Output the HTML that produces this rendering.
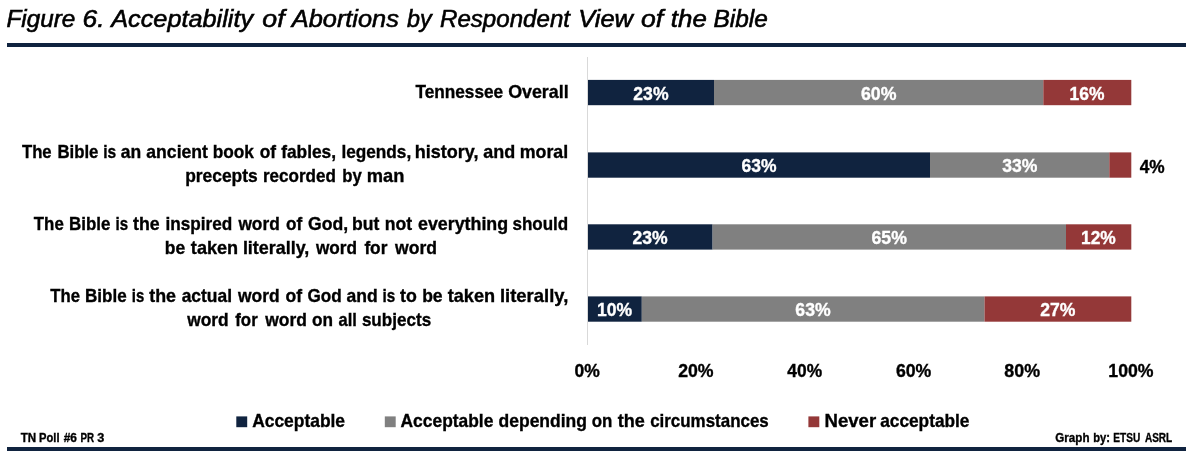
<!DOCTYPE html>
<html lang="en"><head><meta charset="utf-8"><title>Figure 6. Acceptability of Abortions by Respondent View of the Bible</title>
<style>
html,body{margin:0;padding:0;background:#fff;}
body{width:1193px;height:459px;overflow:hidden;}
svg{display:block;font-family:"Liberation Sans", Arial, sans-serif;will-change:transform;}
</style></head><body>
<svg width="1193" height="459" viewBox="0 0 1193 459">
<rect x="0" y="0" width="1193" height="459" fill="#fff"/>
<rect x="7" y="43" width="1179" height="4" fill="#10233f"/>
<rect x="7" y="447" width="1179" height="4" fill="#10233f"/>
<rect x="587" y="57" width="1" height="288" fill="#d9d9d9"/>
<rect x="588" y="79.9" width="126.00" height="25.3" fill="#10233f"/>
<rect x="714" y="79.9" width="329.30" height="25.3" fill="#808080"/>
<rect x="1043.3" y="79.9" width="88.00" height="25.3" fill="#943838"/>
<rect x="588" y="152.4" width="342.00" height="25.3" fill="#10233f"/>
<rect x="930" y="152.4" width="179.30" height="25.3" fill="#808080"/>
<rect x="1109.3" y="152.4" width="22.00" height="25.3" fill="#943838"/>
<rect x="588" y="224.3" width="124.60" height="25.3" fill="#10233f"/>
<rect x="712.6" y="224.3" width="353.40" height="25.3" fill="#808080"/>
<rect x="1066" y="224.3" width="65.30" height="25.3" fill="#943838"/>
<rect x="588" y="296.4" width="53.80" height="25.3" fill="#10233f"/>
<rect x="641.8" y="296.4" width="342.70" height="25.3" fill="#808080"/>
<rect x="984.5" y="296.4" width="146.80" height="25.3" fill="#943838"/>
<rect x="236.3" y="416.4" width="10.9" height="10.8" fill="#10233f"/>
<rect x="384.8" y="416.4" width="10.9" height="10.8" fill="#808080"/>
<rect x="808.4" y="416.4" width="10.9" height="10.8" fill="#943838"/>
<text y="27.45" font-size="24.8" font-weight="normal" font-style="italic" fill="#000" stroke="#000" stroke-width="0.6"><tspan x="6.56" textLength="68.77" lengthAdjust="spacingAndGlyphs">Figure</tspan> <tspan x="82.54" textLength="21.97" lengthAdjust="spacingAndGlyphs">6.</tspan> <tspan x="111.25" textLength="141.85" lengthAdjust="spacingAndGlyphs">Acceptability</tspan> <tspan x="262.39" textLength="22.34" lengthAdjust="spacingAndGlyphs">of</tspan> <tspan x="291.80" textLength="107.08" lengthAdjust="spacingAndGlyphs">Abortions</tspan> <tspan x="407.02" textLength="24.68" lengthAdjust="spacingAndGlyphs">by</tspan> <tspan x="439.98" textLength="130.03" lengthAdjust="spacingAndGlyphs">Respondent</tspan> <tspan x="578.24" textLength="54.75" lengthAdjust="spacingAndGlyphs">View</tspan> <tspan x="640.99" textLength="22.18" lengthAdjust="spacingAndGlyphs">of</tspan> <tspan x="670.85" textLength="35.95" lengthAdjust="spacingAndGlyphs">the</tspan> <tspan x="713.53" textLength="54.30" lengthAdjust="spacingAndGlyphs">Bible</tspan></text>
<text y="97.90" font-size="18.2" font-weight="bold" font-style="normal" fill="#000" stroke="#000" stroke-width="0.35"><tspan x="415.43" textLength="87.71" lengthAdjust="spacingAndGlyphs">Tennessee</tspan> <tspan x="508.14" textLength="60.49" lengthAdjust="spacingAndGlyphs">Overall</tspan></text>
<text y="157.90" font-size="18.2" font-weight="bold" font-style="normal" fill="#000" stroke="#000" stroke-width="0.35"><tspan x="21.96" textLength="29.70" lengthAdjust="spacingAndGlyphs">The</tspan> <tspan x="57.45" textLength="41.00" lengthAdjust="spacingAndGlyphs">Bible</tspan> <tspan x="103.26" textLength="13.00" lengthAdjust="spacingAndGlyphs">is</tspan> <tspan x="120.70" textLength="20.42" lengthAdjust="spacingAndGlyphs">an</tspan> <tspan x="146.33" textLength="61.65" lengthAdjust="spacingAndGlyphs">ancient</tspan> <tspan x="212.75" textLength="41.23" lengthAdjust="spacingAndGlyphs">book</tspan> <tspan x="259.72" textLength="16.32" lengthAdjust="spacingAndGlyphs">of</tspan> <tspan x="281.17" textLength="54.91" lengthAdjust="spacingAndGlyphs">fables,</tspan> <tspan x="341.44" textLength="69.76" lengthAdjust="spacingAndGlyphs">legends,</tspan> <tspan x="414.78" textLength="63.68" lengthAdjust="spacingAndGlyphs">history,</tspan> <tspan x="483.33" textLength="31.99" lengthAdjust="spacingAndGlyphs">and</tspan> <tspan x="519.76" textLength="48.46" lengthAdjust="spacingAndGlyphs">moral</tspan></text>
<text y="181.70" font-size="18.2" font-weight="bold" font-style="normal" fill="#000" stroke="#000" stroke-width="0.35"><tspan x="185.16" textLength="72.57" lengthAdjust="spacingAndGlyphs">precepts</tspan> <tspan x="262.95" textLength="72.89" lengthAdjust="spacingAndGlyphs">recorded</tspan> <tspan x="342.30" textLength="19.49" lengthAdjust="spacingAndGlyphs">by</tspan> <tspan x="366.71" textLength="37.61" lengthAdjust="spacingAndGlyphs">man</tspan></text>
<text y="230.10" font-size="18.2" font-weight="bold" font-style="normal" fill="#000" stroke="#000" stroke-width="0.35"><tspan x="33.85" textLength="29.89" lengthAdjust="spacingAndGlyphs">The</tspan> <tspan x="69.07" textLength="41.28" lengthAdjust="spacingAndGlyphs">Bible</tspan> <tspan x="115.61" textLength="12.59" lengthAdjust="spacingAndGlyphs">is</tspan> <tspan x="133.03" textLength="26.58" lengthAdjust="spacingAndGlyphs">the</tspan> <tspan x="165.42" textLength="66.82" lengthAdjust="spacingAndGlyphs">inspired</tspan> <tspan x="238.42" textLength="41.29" lengthAdjust="spacingAndGlyphs">word</tspan> <tspan x="286.05" textLength="16.17" lengthAdjust="spacingAndGlyphs">of</tspan> <tspan x="307.99" textLength="40.13" lengthAdjust="spacingAndGlyphs">God,</tspan> <tspan x="351.96" textLength="27.31" lengthAdjust="spacingAndGlyphs">but</tspan> <tspan x="384.86" textLength="27.32" lengthAdjust="spacingAndGlyphs">not</tspan> <tspan x="418.03" textLength="90.11" lengthAdjust="spacingAndGlyphs">everything</tspan> <tspan x="512.44" textLength="55.82" lengthAdjust="spacingAndGlyphs">should</tspan></text>
<text y="253.80" font-size="18.2" font-weight="bold" font-style="normal" fill="#000" stroke="#000" stroke-width="0.35"><tspan x="164.80" textLength="20.36" lengthAdjust="spacingAndGlyphs">be</tspan> <tspan x="190.87" textLength="47.27" lengthAdjust="spacingAndGlyphs">taken</tspan> <tspan x="242.90" textLength="66.40" lengthAdjust="spacingAndGlyphs">literally,</tspan> <tspan x="315.90" textLength="41.06" lengthAdjust="spacingAndGlyphs">word</tspan> <tspan x="364.39" textLength="23.00" lengthAdjust="spacingAndGlyphs">for</tspan> <tspan x="395.05" textLength="41.89" lengthAdjust="spacingAndGlyphs">word</tspan></text>
<text y="302.30" font-size="18.2" font-weight="bold" font-style="normal" fill="#000" stroke="#000" stroke-width="0.35"><tspan x="50.26" textLength="29.69" lengthAdjust="spacingAndGlyphs">The</tspan> <tspan x="85.03" textLength="41.65" lengthAdjust="spacingAndGlyphs">Bible</tspan> <tspan x="131.75" textLength="12.46" lengthAdjust="spacingAndGlyphs">is</tspan> <tspan x="149.24" textLength="26.75" lengthAdjust="spacingAndGlyphs">the</tspan> <tspan x="181.69" textLength="50.32" lengthAdjust="spacingAndGlyphs">actual</tspan> <tspan x="238.04" textLength="41.60" lengthAdjust="spacingAndGlyphs">word</tspan> <tspan x="285.55" textLength="16.54" lengthAdjust="spacingAndGlyphs">of</tspan> <tspan x="307.38" textLength="34.28" lengthAdjust="spacingAndGlyphs">God</tspan> <tspan x="346.51" textLength="31.22" lengthAdjust="spacingAndGlyphs">and</tspan> <tspan x="382.62" textLength="12.73" lengthAdjust="spacingAndGlyphs">is</tspan> <tspan x="400.03" textLength="16.75" lengthAdjust="spacingAndGlyphs">to</tspan> <tspan x="422.18" textLength="20.44" lengthAdjust="spacingAndGlyphs">be</tspan> <tspan x="447.72" textLength="47.36" lengthAdjust="spacingAndGlyphs">taken</tspan> <tspan x="499.99" textLength="68.30" lengthAdjust="spacingAndGlyphs">literally,</tspan></text>
<text y="326.00" font-size="18.2" font-weight="bold" font-style="normal" fill="#000" stroke="#000" stroke-width="0.35"><tspan x="187.28" textLength="41.47" lengthAdjust="spacingAndGlyphs">word</tspan> <tspan x="235.27" textLength="22.44" lengthAdjust="spacingAndGlyphs">for</tspan> <tspan x="265.26" textLength="41.63" lengthAdjust="spacingAndGlyphs">word</tspan> <tspan x="312.03" textLength="21.00" lengthAdjust="spacingAndGlyphs">on</tspan> <tspan x="338.60" textLength="18.33" lengthAdjust="spacingAndGlyphs">all</tspan> <tspan x="361.89" textLength="69.25" lengthAdjust="spacingAndGlyphs">subjects</tspan></text>
<text y="99.80" font-size="17.6" font-weight="bold" font-style="normal" fill="#fff" stroke="#fff" stroke-width="0.35"><tspan x="633.34" textLength="35.18" lengthAdjust="spacingAndGlyphs">23%</tspan></text>
<text y="99.80" font-size="17.6" font-weight="bold" font-style="normal" fill="#fff" stroke="#fff" stroke-width="0.35"><tspan x="860.97" textLength="35.45" lengthAdjust="spacingAndGlyphs">60%</tspan></text>
<text y="99.80" font-size="17.6" font-weight="bold" font-style="normal" fill="#fff" stroke="#fff" stroke-width="0.35"><tspan x="1069.60" textLength="34.84" lengthAdjust="spacingAndGlyphs">16%</tspan></text>
<text y="171.85" font-size="17.6" font-weight="bold" font-style="normal" fill="#fff" stroke="#fff" stroke-width="0.35"><tspan x="741.49" textLength="34.93" lengthAdjust="spacingAndGlyphs">63%</tspan></text>
<text y="171.85" font-size="17.6" font-weight="bold" font-style="normal" fill="#fff" stroke="#fff" stroke-width="0.35"><tspan x="1002.15" textLength="35.14" lengthAdjust="spacingAndGlyphs">33%</tspan></text>
<text y="243.85" font-size="17.6" font-weight="bold" font-style="normal" fill="#fff" stroke="#fff" stroke-width="0.35"><tspan x="632.54" textLength="35.16" lengthAdjust="spacingAndGlyphs">23%</tspan></text>
<text y="243.85" font-size="17.6" font-weight="bold" font-style="normal" fill="#fff" stroke="#fff" stroke-width="0.35"><tspan x="871.54" textLength="35.34" lengthAdjust="spacingAndGlyphs">65%</tspan></text>
<text y="243.85" font-size="17.6" font-weight="bold" font-style="normal" fill="#fff" stroke="#fff" stroke-width="0.35"><tspan x="1081.04" textLength="34.73" lengthAdjust="spacingAndGlyphs">12%</tspan></text>
<text y="315.85" font-size="17.6" font-weight="bold" font-style="normal" fill="#fff" stroke="#fff" stroke-width="0.35"><tspan x="597.03" textLength="35.08" lengthAdjust="spacingAndGlyphs">10%</tspan></text>
<text y="315.85" font-size="17.6" font-weight="bold" font-style="normal" fill="#fff" stroke="#fff" stroke-width="0.35"><tspan x="795.39" textLength="35.27" lengthAdjust="spacingAndGlyphs">63%</tspan></text>
<text y="315.85" font-size="17.6" font-weight="bold" font-style="normal" fill="#fff" stroke="#fff" stroke-width="0.35"><tspan x="1040.17" textLength="35.21" lengthAdjust="spacingAndGlyphs">27%</tspan></text>
<text y="172.90" font-size="17.6" font-weight="bold" font-style="normal" fill="#000" stroke="#000" stroke-width="0.35"><tspan x="1139.64" textLength="24.97" lengthAdjust="spacingAndGlyphs">4%</tspan></text>
<text y="376.90" font-size="17.6" font-weight="bold" font-style="normal" fill="#000" stroke="#000" stroke-width="0.35"><tspan x="574.45" textLength="25.27" lengthAdjust="spacingAndGlyphs">0%</tspan></text>
<text y="376.90" font-size="17.6" font-weight="bold" font-style="normal" fill="#000" stroke="#000" stroke-width="0.35"><tspan x="678.17" textLength="35.38" lengthAdjust="spacingAndGlyphs">20%</tspan></text>
<text y="376.90" font-size="17.6" font-weight="bold" font-style="normal" fill="#000" stroke="#000" stroke-width="0.35"><tspan x="787.35" textLength="34.70" lengthAdjust="spacingAndGlyphs">40%</tspan></text>
<text y="376.90" font-size="17.6" font-weight="bold" font-style="normal" fill="#000" stroke="#000" stroke-width="0.35"><tspan x="895.91" textLength="35.38" lengthAdjust="spacingAndGlyphs">60%</tspan></text>
<text y="376.90" font-size="17.6" font-weight="bold" font-style="normal" fill="#000" stroke="#000" stroke-width="0.35"><tspan x="1004.38" textLength="35.68" lengthAdjust="spacingAndGlyphs">80%</tspan></text>
<text y="376.90" font-size="17.6" font-weight="bold" font-style="normal" fill="#000" stroke="#000" stroke-width="0.35"><tspan x="1108.36" textLength="45.19" lengthAdjust="spacingAndGlyphs">100%</tspan></text>
<text y="426.90" font-size="18.2" font-weight="bold" font-style="normal" fill="#000" stroke="#000" stroke-width="0.35"><tspan x="252.19" textLength="92.84" lengthAdjust="spacingAndGlyphs">Acceptable</tspan></text>
<text y="426.90" font-size="18.2" font-weight="bold" font-style="normal" fill="#000" stroke="#000" stroke-width="0.35"><tspan x="400.55" textLength="92.81" lengthAdjust="spacingAndGlyphs">Acceptable</tspan> <tspan x="498.60" textLength="88.33" lengthAdjust="spacingAndGlyphs">depending</tspan> <tspan x="591.65" textLength="20.62" lengthAdjust="spacingAndGlyphs">on</tspan> <tspan x="617.87" textLength="27.02" lengthAdjust="spacingAndGlyphs">the</tspan> <tspan x="650.14" textLength="118.65" lengthAdjust="spacingAndGlyphs">circumstances</tspan></text>
<text y="426.90" font-size="18.2" font-weight="bold" font-style="normal" fill="#000" stroke="#000" stroke-width="0.35"><tspan x="824.49" textLength="51.66" lengthAdjust="spacingAndGlyphs">Never</tspan> <tspan x="880.22" textLength="89.23" lengthAdjust="spacingAndGlyphs">acceptable</tspan></text>
<text y="441.85" font-size="12.2" font-weight="bold" font-style="normal" fill="#000" stroke="#000" stroke-width="0.35"><tspan x="20.67" textLength="15.46" lengthAdjust="spacingAndGlyphs">TN</tspan> <tspan x="39.07" textLength="20.44" lengthAdjust="spacingAndGlyphs">Poll</tspan> <tspan x="63.67" textLength="13.24" lengthAdjust="spacingAndGlyphs">#6</tspan> <tspan x="80.60" textLength="13.57" lengthAdjust="spacingAndGlyphs">PR</tspan> <tspan x="97.25" textLength="7.05" lengthAdjust="spacingAndGlyphs">3</tspan></text>
<text y="441.80" font-size="12.2" font-weight="bold" font-style="normal" fill="#000" stroke="#000" stroke-width="0.35"><tspan x="1055.30" textLength="34.17" lengthAdjust="spacingAndGlyphs">Graph</tspan> <tspan x="1093.24" textLength="16.77" lengthAdjust="spacingAndGlyphs">by:</tspan> <tspan x="1113.35" textLength="26.94" lengthAdjust="spacingAndGlyphs">ETSU</tspan> <tspan x="1144.89" textLength="27.33" lengthAdjust="spacingAndGlyphs">ASRL</tspan></text>
</svg></body></html>
